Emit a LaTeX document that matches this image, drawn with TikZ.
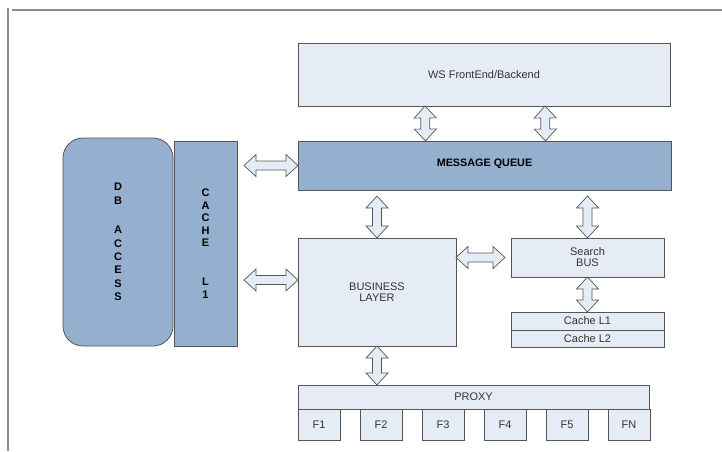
\documentclass[tikz,border=0pt]{standalone}
\usepackage{fontspec}
\setmainfont{Liberation Sans}
\usetikzlibrary{calc}
\definecolor{boxfill}{HTML}{E6ECF6}
\definecolor{darkfill}{HTML}{95AFCF}
\definecolor{boxline}{HTML}{555555}
\definecolor{textgray}{HTML}{333333}
\definecolor{framegray}{HTML}{8C8C8C}

\begin{document}
\begin{tikzpicture}[x=1pt,y=-1pt,
	box/.style={draw=boxline,fill=boxfill,line width=0.8pt,anchor=north west,inner sep=0pt,outer sep=0pt,
		text=textgray,font=\fontsize{11}{11}\selectfont,align=center},
	darkbox/.style={box,fill=darkfill,text=black},
	dblarrow/.style={draw=boxline,fill=boxfill,line width=0.7pt,
		to path={let \p1=(\tikztostart), \p2=(\tikztotarget) in
			-- ($($(\p1)!12pt!(\p2)$)!11pt!90:(\p2)$)
			-- ($($(\p1)!12pt!(\p2)$)!4.5pt!90:(\p2)$)
			-- ($($(\p2)!12pt!(\p1)$)!4.5pt!-90:(\p1)$)
			-- ($($(\p2)!12pt!(\p1)$)!11pt!-90:(\p1)$)
			-- (\p2)
			-- ($($(\p2)!12pt!(\p1)$)!11pt!90:(\p1)$)
			-- ($($(\p2)!12pt!(\p1)$)!4.5pt!90:(\p1)$)
			-- ($($(\p1)!12pt!(\p2)$)!4.5pt!-90:(\p2)$)
			-- ($($(\p1)!12pt!(\p2)$)!11pt!-90:(\p2)$)
			-- cycle}}]
			\useasboundingbox (0,0) rectangle (722,451);
			
			% frame
			
			\draw[framegray,line width=1.5pt] (12,10) -- (722,10);
			\draw[framegray,line width=1.5pt] (8,8) -- (8,451);
			
			% boxes
			
			\node[box,minimum width=372pt,minimum height=63pt] (WS) at (298,43) {WS FrontEnd/Backend};
			\node[darkbox,minimum width=373pt,minimum height=49pt,font=\bfseries\fontsize{10.8}{10}\selectfont] (MQ) at (298,141) {MESSAGE QUEUE\\[-4pt]};
			\node[darkbox,rounded corners=20pt,minimum width=110pt,minimum height=208pt,
				font=\bfseries\fontsize{11}{13.4}\selectfont] (DB) at (63,138) {D\\B\\[16pt]A\\C\\C\\E\\S\\S};
			\node[darkbox,minimum width=63pt,minimum height=205pt,
				font=\bfseries\fontsize{11}{12.5}\selectfont] (CA) at (174,141) {C\\A\\C\\H\\E\\[26.5pt]L\\1};
			\node[box,minimum width=158pt,minimum height=108pt,font=\fontsize{11}{10.5}\selectfont] (BL) at (298,238) {BUSINESS\\LAYER};
			\node[box,minimum width=153pt,minimum height=39pt,font=\fontsize{11}{11}\selectfont] (SB) at (511,238) {Search\\BUS};
			\node[box,minimum width=153pt,minimum height=18pt] (C1) at (511,312) {Cache L1};
			\node[box,minimum width=153pt,minimum height=17pt] (C2) at (511,330) {Cache L2};
			\node[box,minimum width=351pt,minimum height=24pt] (PROXY) at (298,385) {PROXY};
			\foreach \i/\t in {0/1,1/2,2/3,3/4,4/5,5/N} {
				\node[box,minimum width=42pt,minimum height=31pt] (F\t) at (298+62*\i,409) {F\t};
			}
			
			% arrows
			
			\draw[dblarrow] ($(WS.south)+(-59,0)$) to ($(MQ.north)+(-59,0)$);
			\draw[dblarrow] ($(WS.south)+(61,0)$) to ($(MQ.north)+(61,0)$);
			\draw[dblarrow] ($(CA.east |- MQ.west)+(7,0)$) to (MQ.west);
			\draw[dblarrow] ($(CA.east |- BL.west)+(7,-12)$) to ($(BL.west)+(0,-12)$);
			\draw[dblarrow] ($(MQ.south -| BL.north)+(0,6)$) to (BL.north);
			\draw[dblarrow] ($(MQ.south -| SB.north)+(0,6)$) to (SB.north);
			\draw[dblarrow] (BL.east |- SB.west) to ($(SB.west)+(-6,0)$);
			\draw[dblarrow] (SB.south) to (C1.north);
			\draw[dblarrow] (BL.south) to (BL.south |- PROXY.north);
		\end{tikzpicture}
\end{document}
